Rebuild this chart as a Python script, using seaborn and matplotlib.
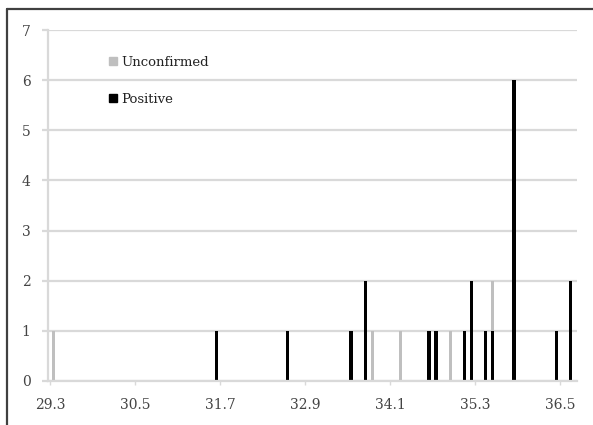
import matplotlib
matplotlib.use("Agg")
import matplotlib.pyplot as plt
from matplotlib.patches import Rectangle
from matplotlib.lines import Line2D
import pandas as pd
import seaborn as sns

# measurements (0.1 bins) and counts per group
positive_x = [31.6, 32.6, 33.5, 33.7, 34.6, 34.7, 35.1, 35.2, 35.4, 35.5, 35.8, 36.4, 36.6]
positive_n = [1, 1, 1, 2, 1, 1, 1, 2, 1, 1, 6, 1, 2]
unconfirmed_x = [29.3, 33.8, 34.2, 34.9, 35.5]
unconfirmed_n = [1, 1, 1, 1, 1]

tick_vals = [29.3, 30.5, 31.7, 32.9, 34.1, 35.3, 36.5]
tick_labels = ["29.3", "30.5", "31.7", "32.9", "34.1", "35.3", "36.5"]
groups = ["Unconfirmed", "Positive"]
colors = {"Unconfirmed": "#bfbfbf", "Positive": "#000000"}

df = pd.concat([
    pd.DataFrame({"value": unconfirmed_x, "count": unconfirmed_n, "status": "Unconfirmed"}),
    pd.DataFrame({"value": positive_x, "count": positive_n, "status": "Positive"}),
], ignore_index=True)

sns.set_theme(style="white")
plt.rcParams["font.family"] = ["DejaVu Serif", "Liberation Serif"]

fig = plt.figure(figsize=(5.93, 4.25), dpi=100)
ax = fig.add_axes([48 / 593, 1 - 381 / 425, 529 / 593, 351 / 425])

sns.histplot(
    data=df, x="value", weights="count", hue="status", hue_order=groups,
    multiple="stack", binwidth=0.1, binrange=(29.25, 36.75), shrink=0.45,
    palette=colors, linewidth=0, alpha=1, legend=False, ax=ax,
)

grid_c = "#d9d9d9"
ax.set_ylim(0, 7)
ax.set_yticks(range(8))
ax.set_xlim(29.222, 36.69)
ax.set_xticks([t - 0.05 for t in tick_vals], tick_labels)
ax.yaxis.grid(True, color=grid_c, lw=1.6, zorder=0)
ax.set_axisbelow(True)
ax.set_xlabel("")
ax.set_ylabel("")
for side in ["top", "right"]:
    ax.spines[side].set_visible(False)
for side in ["left", "bottom"]:
    ax.spines[side].set_color(grid_c)
    ax.spines[side].set_linewidth(1.6)
ax.tick_params(axis="y", length=4.5, width=1.6, color=grid_c, pad=8,
               labelsize=10, labelcolor="#444444", left=True)
ax.tick_params(axis="x", length=3, width=1, color=grid_c, pad=9,
               labelsize=10, labelcolor="#444444", bottom=True)

handles = [Rectangle((0, 0), 1, 1, color=colors[g]) for g in groups]
ax.legend(handles, groups, loc="upper left", bbox_to_anchor=(0.093, 0.96),
          frameon=False, handlelength=0.6, handleheight=0.6, handletextpad=0.3,
          labelspacing=1.8, fontsize=9.5, labelcolor="#222222")

# outer frame (top and left edges visible)
fig.add_artist(Line2D([7 / 593, 1.0], [1 - 9 / 425, 1 - 9 / 425], color="#404040", lw=1.6,
                      transform=fig.transFigure))
fig.add_artist(Line2D([7 / 593, 7 / 593], [0.0, 1 - 9 / 425], color="#404040", lw=1.6,
                      transform=fig.transFigure))

fig.savefig("out.png", dpi=100)
